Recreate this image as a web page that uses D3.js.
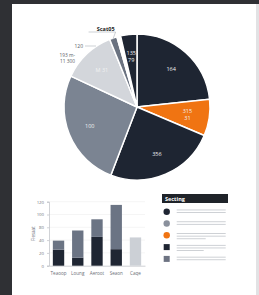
<!DOCTYPE html>
<html>
<head>
<meta charset="utf-8">
<script src="https://cdn.jsdelivr.net/npm/d3@7"></script>
<style>
  html, body { margin: 0; padding: 0; background: #e4e4e6; }
  svg { display: block; font-family: "Open Sans", "DejaVu Sans", sans-serif; }
</style>
</head>
<body>
<svg id="chart" width="259" height="295"></svg>
<script>
// pie data (clockwise from 12 o'clock)
var pieLabels = ["164", "315\n31", "356", "100", "M 31", "", "", "135\n79"];
var pieValues = [84, 29, 88, 94, 43, 6, 3, 13];
var pieColors = ["#1e2532", "#f07412", "#1e2532", "#7b8492", "#d3d6db", "#6a7280", "#ffffff", "#1e2532"];

// outside callouts
var calloutTexts = [["Scat05"], ["120"], ["193 m-", "11 300"]];

// bar data
var barCategories = ["Teaoop", "Loung", "Aeroot", "Seaon", "Caqe"];
var barBottom = [30, 15, 54, 31, 53];
var barTop = [17, 51, 33, 83, 0];
var yTickValues = [0, 24, 48, 72, 96, 120];
var yTickLabels = ["0", "20", "40", "80", "100", "120"];

// legend
var legendTitle = "Secting";
var legendShapes = ["circle", "circle", "circle", "square", "square"];
var legendColors = ["#1e2532", "#8a909c", "#f07412", "#1e2532", "#6d7382"];
var legendLines = [2, 2, 3, 3, 2];

var svg = d3.select("#chart");

// page frame
svg.append("rect").attr("width", 259).attr("height", 295).attr("fill", "#2f3034");
svg.append("rect").attr("x", 12).attr("y", 4).attr("width", 244).attr("height", 291).attr("fill", "#ffffff");
svg.append("rect").attr("x", 256).attr("y", 4).attr("width", 3).attr("height", 291).attr("fill", "#e2e2e4");

// ---- pie ----
var cx = 137, cy = 107, r = 73;
var pie = d3.pie().sort(null).value(function(d) { return d; });
var arcs = pie(pieValues);
var arc = d3.arc().innerRadius(0).outerRadius(r);
var labelArc = d3.arc().innerRadius(51).outerRadius(51);

var pg = svg.append("g").attr("transform", "translate(" + cx + "," + cy + ")");

pg.selectAll("path")
  .data(arcs)
  .enter().append("path")
  .attr("d", arc)
  .attr("fill", function(d, i) { return pieColors[i]; })
  .attr("stroke", "#ffffff")
  .attr("stroke-width", 1.5)
  .attr("stroke-linejoin", "round");

pg.selectAll("text.pl")
  .data(arcs)
  .enter().append("text")
  .attr("class", "pl")
  .attr("transform", function(d) { return "translate(" + labelArc.centroid(d) + ")"; })
  .attr("text-anchor", "middle")
  .attr("font-size", 5.5)
  .attr("fill", "#f2f2f2")
  .each(function(d, i) {
    var lines = pieLabels[i].split("\n");
    var t = d3.select(this);
    lines.forEach(function(l, j) {
      t.append("tspan")
        .attr("x", 0)
        .attr("dy", j == 0 ? (2 - (lines.length - 1) * 3.3) : 6.6)
        .text(l);
    });
  });

// callouts for the thin slices
var outer = d3.arc().innerRadius(r + 2).outerRadius(r + 2);
var c6 = outer.centroid(arcs[5]);

pg.append("path")
  .attr("d", "M" + (c6[0] - 24) + "," + (-r - 2) + "L" + (c6[0] + 3) + "," + (-r - 2) + "L" + c6[0] + "," + (c6[1] + 4))
  .attr("fill", "none").attr("stroke", "#9aa0a8").attr("stroke-width", 0.5);
pg.append("text")
  .attr("x", c6[0] + 2).attr("y", -r - 3)
  .attr("text-anchor", "end")
  .attr("font-size", 5.5).attr("font-weight", "bold").attr("fill", "#1a1a1a")
  .text(calloutTexts[0][0]);

pg.append("line")
  .attr("x1", -52).attr("y1", -61).attr("x2", -41).attr("y2", -61)
  .attr("stroke", "#9aa0a8").attr("stroke-width", 0.5);
pg.append("text")
  .attr("x", -54).attr("y", -59)
  .attr("text-anchor", "end")
  .attr("font-size", 5).attr("fill", "#555b63")
  .text(calloutTexts[1][0]);

pg.append("text")
  .attr("x", -62).attr("y", -50)
  .attr("text-anchor", "end")
  .attr("font-size", 4.8).attr("fill", "#555b63")
  .selectAll("tspan")
  .data(calloutTexts[2])
  .enter().append("tspan")
  .attr("x", -62)
  .attr("dy", function(d, i) { return i == 0 ? 0 : 6; })
  .text(function(d) { return d; });

// ---- stacked bars ----
var bx0 = 49, bx1 = 145, by0 = 265.7, by1 = 201.7;
var x = d3.scaleBand().domain(barCategories).range([bx0, bx1]).paddingInner(0.41).paddingOuter(0.2);
var y = d3.scaleLinear().domain([0, 120]).range([by0, by1]);

var bg = svg.append("g");

bg.selectAll("line.grid")
  .data(yTickValues.slice(1))
  .enter().append("line")
  .attr("class", "grid")
  .attr("x1", bx0).attr("x2", bx1)
  .attr("y1", function(d) { return y(d); }).attr("y2", function(d) { return y(d); })
  .attr("stroke", "#eeeeef").attr("stroke-width", 0.6);

var yAxis = bg.append("g")
  .attr("transform", "translate(" + bx0 + ",0)")
  .call(d3.axisLeft(y).tickValues(yTickValues).tickSize(2).tickFormat(function(d, i) { return yTickLabels[i]; }));
yAxis.select(".domain").attr("stroke", "#b0b4ba").attr("stroke-width", 0.6);
yAxis.selectAll(".tick line").attr("stroke", "#b0b4ba").attr("stroke-width", 0.6);
yAxis.selectAll("text").attr("font-size", 4.3).attr("fill", "#6b7078").attr("font-family", "Open Sans, sans-serif");

bg.append("text")
  .attr("transform", "translate(35," + ((by0 + by1) / 2) + ") rotate(-90)")
  .attr("text-anchor", "middle")
  .attr("font-size", 4.5).attr("fill", "#6b7078")
  .text("Fiesaat");

var xAxis = bg.append("g")
  .attr("transform", "translate(0," + by0 + ")")
  .call(d3.axisBottom(x).tickSize(0).tickPadding(6));
xAxis.select(".domain").attr("stroke", "#b0b4ba").attr("stroke-width", 0.6);
xAxis.selectAll("text").attr("font-size", 4.6).attr("fill", "#6b7078").attr("font-family", "Open Sans, sans-serif");

bg.selectAll("rect.bot")
  .data(barCategories)
  .enter().append("rect")
  .attr("class", "bot")
  .attr("x", function(d) { return x(d); })
  .attr("width", x.bandwidth())
  .attr("y", function(d, i) { return y(barBottom[i]); })
  .attr("height", function(d, i) { return by0 - y(barBottom[i]); })
  .attr("fill", function(d, i) { return i == 4 ? "#ccd0d6" : "#1f2633"; });

bg.selectAll("rect.top")
  .data(barCategories)
  .enter().append("rect")
  .attr("class", "top")
  .attr("x", function(d) { return x(d); })
  .attr("width", x.bandwidth())
  .attr("y", function(d, i) { return y(barBottom[i] + barTop[i]); })
  .attr("height", function(d, i) { return y(barBottom[i]) - y(barBottom[i] + barTop[i]); })
  .attr("fill", "#6b7484");

// ---- legend ----
var lg = svg.append("g").attr("transform", "translate(162,194)");
lg.append("rect").attr("width", 66).attr("height", 9).attr("fill", "#1f2329");
lg.append("text").attr("x", 3).attr("y", 6.5)
  .attr("font-size", 5.5).attr("font-weight", "bold").attr("fill", "#ffffff")
  .text(legendTitle);

var items = lg.selectAll("g.item")
  .data(legendColors)
  .enter().append("g")
  .attr("class", "item")
  .attr("transform", function(d, i) { return "translate(0," + (17.7 + i * 11.8) + ")"; });

items.each(function(c, i) {
  var g = d3.select(this);
  if (legendShapes[i] == "circle") {
    g.append("circle").attr("cx", 4.7).attr("cy", 0).attr("r", 3.2).attr("fill", c);
  } else {
    g.append("rect").attr("x", 1.7).attr("y", -3).attr("width", 6).attr("height", 6).attr("fill", c);
  }
  for (var k = 0; k < legendLines[i]; k++) {
    var len = (k == 2) ? (i == 2 ? 29 : 27) : 49;
    g.append("rect")
      .attr("x", 14.7).attr("y", -2.2 + k * 2.6)
      .attr("width", len).attr("height", 0.9)
      .attr("fill", "#c9ccd1");
  }
});
</script>
</body>
</html>
